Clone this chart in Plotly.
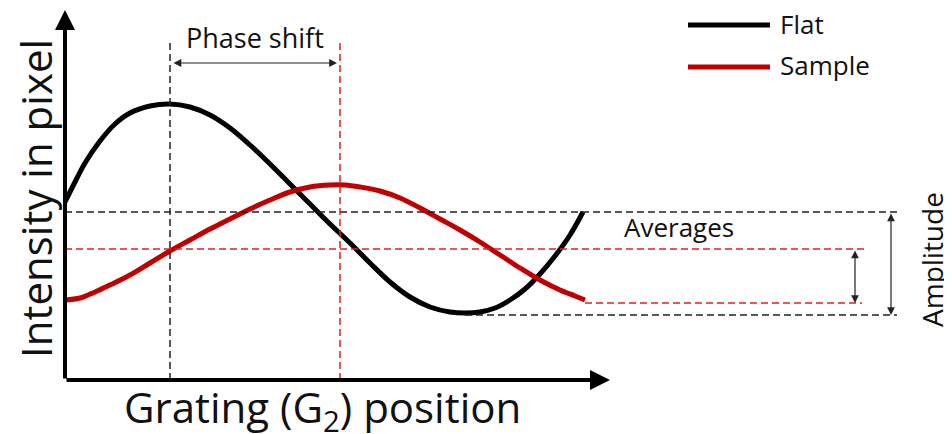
import plotly.graph_objects as go

# ---- data (arbitrary units: grating position vs. intensity) ----
position_flat = [0, 10, 20, 35, 50, 65, 85, 105, 125, 145, 165, 185, 205, 225, 245, 265,
                 285, 305, 325, 345, 365, 385, 400, 415, 430, 445, 460, 475, 490, 505, 518]
intensity_flat = [178, 198, 217, 239, 256, 267, 274, 276, 273, 265, 252, 235, 216, 196, 176, 156,
                  137, 117, 98, 83, 73, 68, 67, 68, 72, 80, 91, 106, 124, 145, 168]

position_sample = [0, 15, 30, 45, 65, 85, 105, 125, 145, 165, 185, 205, 225, 245, 265, 280,
                   295, 315, 335, 355, 375, 395, 415, 435, 455, 475, 495, 510, 520]
intensity_sample = [80, 82, 88, 95, 105, 117, 129, 140, 151, 161, 171, 180, 188, 193, 195, 195,
                    193, 189, 182, 172, 161, 150, 138, 125, 112, 100, 90, 84, 80]

series_names = ["Flat", "Sample"]
series_colors = ["#000000", "#C00000"]

flat_avg = 168
flat_min = 65
flat_min_pos = 400
sample_avg = 131
sample_min = 77
sample_end_pos = 520
flat_peak_pos = 105
sample_peak_pos = 275

x_axis_end = 545
y_axis_end = 370
guide_end = 832
sample_guide_end = 802
vline_top = 338

x_label = "Grating (G<sub>2</sub>) position"
y_label = "Intensity in pixel"

FONT = "Open Sans"
TXT = "#111111"

fig = go.Figure()
fig.add_trace(go.Scatter(x=position_flat, y=intensity_flat, mode="lines",
                         line=dict(color=series_colors[0], width=5, shape="spline", smoothing=1),
                         name=series_names[0], showlegend=False))
fig.add_trace(go.Scatter(x=position_sample, y=intensity_sample, mode="lines",
                         line=dict(color=series_colors[1], width=5, shape="spline", smoothing=1),
                         name=series_names[1], showlegend=False))

dash = "7px,4px"
shapes = [
    dict(type="line", x0=0, x1=guide_end, y0=flat_avg, y1=flat_avg,
         line=dict(color="#222222", width=1.5, dash=dash)),
    dict(type="line", x0=0, x1=sample_guide_end, y0=sample_avg, y1=sample_avg,
         line=dict(color="#E02020", width=1.5, dash=dash)),
    dict(type="line", x0=flat_min_pos, x1=guide_end, y0=flat_min, y1=flat_min,
         line=dict(color="#222222", width=1.5, dash=dash)),
    dict(type="line", x0=sample_end_pos, x1=sample_guide_end - 5, y0=sample_min, y1=sample_min,
         line=dict(color="#E02020", width=1.5, dash=dash)),
    dict(type="line", x0=flat_peak_pos, x1=flat_peak_pos, y0=0, y1=vline_top,
         line=dict(color="#222222", width=1.5, dash=dash)),
    dict(type="line", x0=sample_peak_pos, x1=sample_peak_pos, y0=0, y1=vline_top,
         line=dict(color="#E02020", width=1.5, dash=dash)),
    # legend lines
    dict(type="line", x0=623, x1=705, y0=355, y1=355, line=dict(color=series_colors[0], width=5)),
    dict(type="line", x0=623, x1=705, y0=313, y1=313, line=dict(color=series_colors[1], width=5)),
]

def arrow(x0, y0, x1, y1, width, size, both=False, color="#000000"):
    return dict(x=x1, y=y1, ax=x0, ay=y0, xref="x", yref="y", axref="x", ayref="y",
                text="", showarrow=True, arrowhead=2, arrowsize=size, arrowwidth=width,
                arrowcolor=color, arrowside="end+start" if both else "end",
                startarrowhead=2, startarrowsize=size, standoff=0, startstandoff=0)

annotations = [
    arrow(0, 0, x_axis_end, 0, 4, 1.0),
    arrow(0, 0, 0, y_axis_end, 4, 1.0),
    arrow(flat_peak_pos + 2, 317, sample_peak_pos - 3, 317, 1.2, 1.3, both=True, color="#222222"),
    arrow(790, sample_avg, 790, sample_min, 1.2, 1.3, both=True, color="#222222"),
    arrow(826, flat_avg, 826, flat_min, 1.2, 1.3, both=True, color="#222222"),
    dict(x=190, y=343, xref="x", yref="y", text="Phase shift", showarrow=False,
         font=dict(family=FONT, size=27, color=TXT)),
    dict(x=557, y=153, xref="x", yref="y", text="Averages", showarrow=False, xanchor="left",
         font=dict(family=FONT, size=26, color=TXT)),
    dict(x=867, y=120, xref="x", yref="y", text="Amplitude", showarrow=False, textangle=-90,
         font=dict(family=FONT, size=28, color=TXT)),
    dict(x=713, y=356, xref="x", yref="y", text=series_names[0], showarrow=False, xanchor="left",
         font=dict(family=FONT, size=26, color=TXT)),
    dict(x=713, y=315, xref="x", yref="y", text=series_names[1], showarrow=False, xanchor="left",
         font=dict(family=FONT, size=26, color=TXT)),
    dict(x=-30, y=181, xref="x", yref="y", text=y_label, showarrow=False, textangle=-90,
         font=dict(family=FONT, size=42, color=TXT)),
    dict(x=257, y=-29, xref="x", yref="y", text=x_label, showarrow=False,
         font=dict(family=FONT, size=42, color=TXT)),
]

# The page body keeps an 8px margin, so the figure is 944x426 and the
# ranges are offset so that content lands where it does in the reference.
fig.update_layout(
    width=944, height=426,
    margin=dict(l=0, r=0, t=0, b=0),
    paper_bgcolor="white", plot_bgcolor="white",
    xaxis=dict(range=[-57, 887], visible=False, fixedrange=True),
    yaxis=dict(range=[-54, 372], visible=False, fixedrange=True),
    shapes=shapes, annotations=annotations, showlegend=False,
)

fig.write_html("out.html")
